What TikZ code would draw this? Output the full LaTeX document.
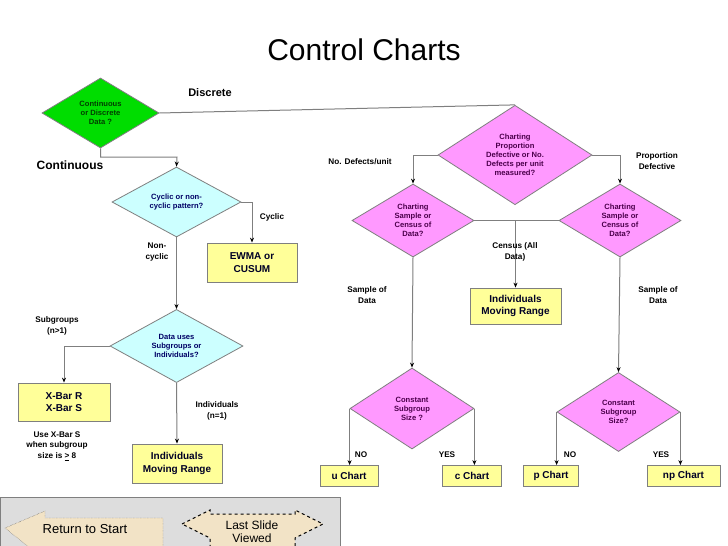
\documentclass[tikz,border=0pt]{standalone}
\usepackage{fontspec}
\setmainfont{Liberation Sans}
\usetikzlibrary{shapes.geometric,arrows.meta}
\definecolor{gline}{HTML}{7F7F7F}
\definecolor{dgreen}{HTML}{00DD00}
\definecolor{cyanf}{HTML}{CCFFFF}
\definecolor{pinkf}{HTML}{FF99FF}
\definecolor{yell}{HTML}{FFFF99}
\definecolor{panel}{HTML}{DDDDDD}
\definecolor{beige}{HTML}{F2E3C6}
\begin{document}
\begin{tikzpicture}[x=1pt,y=-1pt,
  dia/.style={diamond,draw=gline,line width=0.8pt,inner sep=0pt,align=center,font=\fontsize{7.6}{9}\selectfont\bfseries},
  box/.style={rectangle,draw=gline,line width=0.8pt,fill=yell,align=center,inner sep=0pt,font=\fontsize{10}{12.5}\selectfont\bfseries,text=black!85!blue},
  lab/.style={align=center,font=\fontsize{8.2}{10.5}\selectfont\bfseries},
  con/.style={draw=gline,line width=1pt,-{Stealth[black,length=5pt,width=4pt]}},
  pln/.style={draw=gline,line width=1pt}]
\useasboundingbox (0,0) rectangle (728,546);
\fill[white] (0,0) rectangle (728,546);
\node[font=\fontsize{30}{32}\selectfont] (title) at (364,50) {Control Charts};
% diamonds
\node[dia,fill=dgreen,text=green!25!black,minimum width=117pt,minimum height=70pt] (g) at (100.5,113) {Continuous\\or Discrete\\Data ?};
\node[dia,fill=cyanf,text=blue!40!black,minimum width=129pt,minimum height=70pt] (c1) at (176.5,202) {Cyclic or non-\\cyclic pattern?};
\node[dia,fill=cyanf,text=blue!40!black,minimum width=133pt,minimum height=70pt] (c2) at (176.5,346) {Data uses\\Subgroups or\\Individuals?};
\node[dia,fill=pinkf,text=violet!60!black,minimum width=154pt,minimum height=83pt] (p1) at (515,155) {Charting\\Proportion\\Defective or No.\\Defects per unit\\measured?};
\node[dia,fill=pinkf,text=violet!60!black,minimum width=122pt,minimum height=73pt] (p2) at (413,220.5) {Charting\\Sample or\\Census of\\Data?};
\node[dia,fill=pinkf,text=violet!60!black,minimum width=122pt,minimum height=73pt] (p3) at (620,220.5) {Charting\\Sample or\\Census of\\Data?};
\node[dia,fill=pinkf,text=violet!60!black,minimum width=124pt,minimum height=81pt] (p4) at (412,408.5) {Constant\\Subgroup\\Size ?};
\node[dia,fill=pinkf,text=violet!60!black,minimum width=123pt,minimum height=79pt] (p5) at (618.5,412) {Constant\\Subgroup\\Size?};
% boxes
\node[box,minimum width=90pt,minimum height=39pt] (ewma) at (252,262.5) {EWMA or\\CUSUM};
\node[box,minimum width=92pt,minimum height=38pt] (xbar) at (64,402) {X-Bar R\\X-Bar S};
\node[box,minimum width=90pt,minimum height=39pt] (imr1) at (177,463.5) {Individuals\\Moving Range};
\node[box,minimum width=91pt,minimum height=36pt] (imr2) at (515.5,306) {Individuals\\Moving Range};
\node[box,minimum width=58pt,minimum height=21pt] (u) at (349,476) {u Chart};
\node[box,minimum width=59pt,minimum height=21pt] (cc) at (472,476) {c Chart};
\node[box,minimum width=55pt,minimum height=21pt] (pc) at (551,476) {p Chart};
\node[box,minimum width=73pt,minimum height=21pt] (np) at (683.5,476) {np Chart};
% connectors
\draw[pln] (g.east) -- (p1.north);
\draw[con] (g.south) |- (177,157) -- (c1.north);
\draw[con] (c1.east) -| (ewma.north);
\draw[con] (c1.south) -- (c2.north);
\draw[con] (c2.west) -| (xbar.north);
\draw[con] (c2.south) -- (imr1.north);
\draw[con] (p1.west) -| (p2.north);
\draw[con] (p1.east) -| (p3.north);
\draw[pln] (p2.east) -- (p3.west);
\coordinate (cen) at (515.5,220.5);
\draw[con] (cen) -- (imr2.north);
\draw[con] (p2.south) -- (p4.north);
\draw[con] (p3.south) -- (p5.north);
\draw[con] (p4.west) -- (p4.west |- u.north);
\draw[con] (p4.east) -- (p4.east |- cc.north);
\draw[con] (p5.west) -- (p5.west |- pc.north);
\draw[con] (p5.east) -- (p5.east |- np.north);
% labels
\node[font=\fontsize{11}{13}\selectfont\bfseries] (ld) at (210,93) {Discrete};
\node[font=\fontsize{12}{14}\selectfont\bfseries] (lc) at (70,165) {Continuous};
\node[lab] (lcy) at (272,217) {Cyclic};
\node[lab] (lnc) at (157,252) {Non-\\cyclic};
\node[lab] (lsg) at (57,326) {Subgroups\\(n>1)};
\node[lab] (lind) at (217,411) {Individuals\\(n=1)};
\node[lab] (luse) at (57,446) {Use X-Bar S\\when subgroup\\size is \underline{>} 8};
\node[lab] (lnd) at (360,162) {No. Defects/unit};
\node[lab] (lpd) at (657,161) {Proportion\\Defective};
\node[lab] (lcen) at (515,252) {Census (All\\Data)};
\node[lab] (ls1) at (367,295) {Sample of\\Data};
\node[lab] (ls2) at (658,295) {Sample of\\Data};
\node[lab] (lno1) at (361,455) {NO};
\node[lab] (lye1) at (447,455) {YES};
\node[lab] (lno2) at (570,455) {NO};
\node[lab] (lye2) at (661,455) {YES};
% bottom panel
\begin{scope}
\clip (0,0) rectangle (728,546);
\draw[gline,fill=panel,line width=0.8pt] (0,497) rectangle (340,560);
\draw[black!70,densely dotted,fill=beige] (5,528) -- (45,511) -- (45,518) -- (163,518) -- (163,560) -- (45,560) -- cycle;
\draw[black,dashed,line width=1pt,fill=beige] (182,524) -- (210,510) -- (210,514) -- (295,514) -- (295,510) -- (323,524) -- (295,538) -- (295,560) -- (210,560) -- (210,538) -- cycle;
\node[font=\fontsize{13}{14}\selectfont] (rts) at (85,529) {Return to Start};
\node[font=\fontsize{12}{13}\selectfont,align=center] (lsv) at (252,532) {Last Slide\\Viewed};
\end{scope}
\end{tikzpicture}
\end{document}
